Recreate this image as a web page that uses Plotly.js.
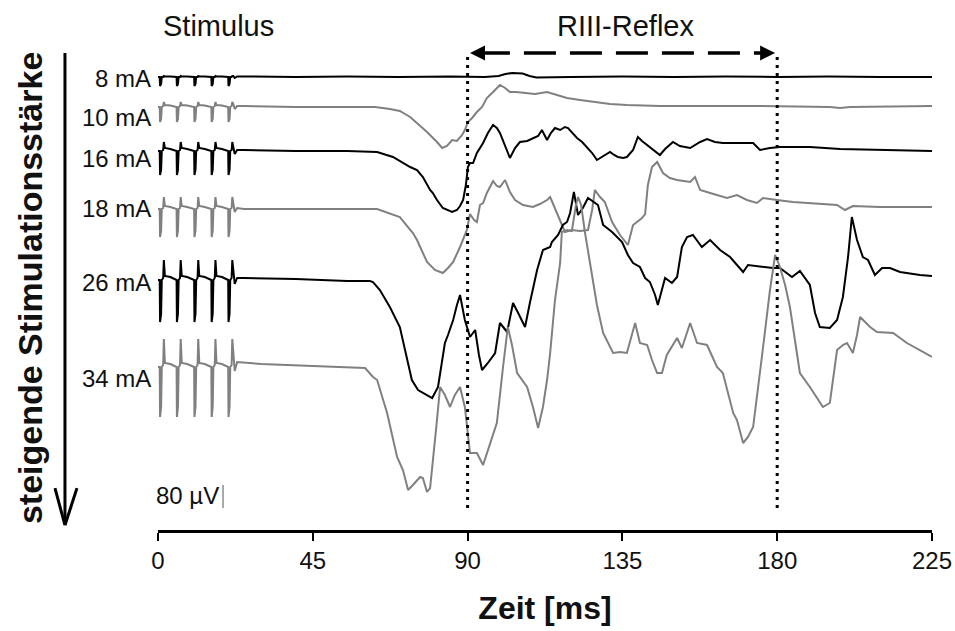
<!DOCTYPE html>
<html>
<head>
<meta charset="utf-8">
<script src="https://cdn.plot.ly/plotly-3.0.1.min.js"></script>
<style>html,body{margin:0;padding:0;background:#fff;}#chart{width:955px;height:631px;}</style>
</head>
<body>
<div id="chart"></div>
<script>
// ---- data (time in ms, amplitude in display units relative to each trace baseline) ----
const labels = ["8 mA", "10 mA", "16 mA", "18 mA", "26 mA", "34 mA"];
const colors = ["#000000", "#808080", "#000000", "#808080", "#000000", "#808080"];
const offsets = [453, 423, 379, 321, 250, 163];
const labelLevels = [452, 413, 372, 322, 248, 152];
const xTicks = [0, 45, 90, 135, 180, 225];

// stimulus section (5 pulses)
const stimT = [0, 0.5,0.6,0.9,1.1,1.5,1.7,2.0,3.6, 5.4,5.5,5.8,6.0,6.4,6.6,6.9,8.5, 10.5,10.6,10.9,11.1,11.5,11.7,12.0,13.6, 15.5,15.6,15.9,16.1,16.5,16.7,17.0,18.6, 20.4,20.5,20.8,21.0,21.4,21.6,21.9,22.3,23.0];
const stim8  = [0, 0,-9,-7,0,0,1,0.5,0.5, 0,-9,-7,0,0,1,0.5,0.5, 0,-9,-7,0,0,1,0.5,0.5, 0,-9,-7,0,0,1,0.5,0.5, 0,-9,-7,0,0,1,1,-1,0.5];
const stim10 = [0, 0,-15,-12,0,1,5,2,1.5, 0,-15,-12,0,1,5,2,1.5, 0,-15,-12,0,1,5,2,1.5, 0,-15,-12,0,1,5,2,1.5, 0,-15,-12,0,1,5,3,-2,1];
const stim16 = [0, 0,-24,-19,0,1,9,3,2, 0,-24,-19,0,1,9,3,2, 0,-24,-19,0,1,9,3,2, 0,-24,-19,0,1,9,3,2, 0,-24,-19,0,1,9,4,-3,1];
const stim18 = [0, 0,-28,-22,0,1,12,3,2, 0,-28,-22,0,1,12,3,2, 0,-28,-22,0,1,12,3,2, 0,-28,-22,0,1,12,3,2, 0,-28,-22,0,1,12,5,-3,1];
const stim26 = [0, 0,-42,-34,0,2,20,4,3, 0,-42,-34,0,2,20,4,3, 0,-42,-34,0,2,20,4,3, 0,-42,-34,0,2,20,4,3, 0,-42,-34,0,2,20,6,-4,2];
const stim34 = [0, 0,-50,-40,0,2,28,4,3, 0,-50,-40,0,2,28,4,3, 0,-50,-40,0,2,28,4,3, 0,-50,-40,0,2,28,4,3, 0,-50,-40,0,2,28,8,-4,5];

// response section
const r8t = [25, 40, 55, 70, 85, 95, 99, 101, 103, 106, 108, 110, 120, 135, 150, 165, 180, 195, 210, 225];
const r8v = [0.5, 0, 0.5, 0, 0.5, 0, 1, 3, 4, 3.5, 1, -0.5, 0, 0.5, 0, 0.5, 0, 0.5, 0, 0];

const r10t = [25, 40, 55, 63.1, 67.4, 70.3, 73.3, 75.3, 78.2, 81.1, 82.6, 84.0, 85.5, 86.9, 88.4, 89.2, 90.1, 91.3, 92.7, 94.2, 95.6, 97.4, 99.4, 100.9, 102.3, 104.1, 106.1, 109.6, 113.1, 116.0, 118.9, 122.7, 126.5, 131.4, 136.3, 145.9, 157.6, 175.0, 195.3, 198.3, 201.2, 225];
const r10v = [1, 0, 0, 0, -2, -4, -10, -16, -25, -35, -41, -39, -33, -34, -28, -23, -15, -11, -5, 0, 9, 15, 22, 19, 15, 15, 14, 13, 15, 12, 9, 7, 5, 3, 2, 1, 1, 1, 0, -1, 0, 1];

const r16t = [25, 40, 55, 63.7, 68.3, 73.3, 75.3, 77.0, 79.1, 79.9, 81.1, 82.8, 84.3, 85.5, 86.9, 87.8, 88.7, 89.5, 90.1, 90.7, 91.6, 92.7, 94.5, 95.9, 97.4, 98.5, 99.4, 100.9, 102.3, 103.8, 105.2, 107.3, 109.0, 110.5, 111.6, 113.1, 114.2, 115.4, 116.9, 118.3, 119.2, 120.6, 121.8, 123.3, 124.7, 126.2, 127.6, 129.4, 131.4, 132.6, 133.7, 135.2, 136.3, 138.1, 139.5, 140.7, 142.2, 143.9, 145.9, 147.4, 149.7, 151.7, 154.7, 157.6, 159.6, 161.9, 164.2, 169.2, 173.0, 175.0, 177.9, 180.8, 189.5, 198.3, 209.9, 225];
const r16v = [1, 0, 0, -1, -6, -16, -19, -26, -39, -42, -49, -57, -59, -61, -59, -55, -49, -34, -16, -12, -12, -2, 8, 18, 26, 23, 18, 6, -7, 3, 9, 10, 13, 15, 21, 11, 18, 23, 21, 24, 23, 18, 13, 9, 4, -2, -9, -5, -1, -4, -6, -7, -6, 1, 14, 10, 6, 1, -4, 2, 9, 5, 3, 9, 12, 9, 8, 8, 8, 1, 3, 4, 4, 2, 1, 0];

const r18t = [25, 40, 55, 63.7, 70.3, 74.1, 75.3, 77.0, 78.2, 80.5, 82.8, 84.3, 85.8, 87.8, 89.8, 90.7, 91.9, 92.7, 93.6, 94.5, 95.6, 97.4, 98.5, 99.4, 100.9, 102.3, 103.8, 106.1, 109.0, 111.0, 113.1, 114.0, 115.4, 116.9, 118.3, 120.3, 122.7, 125.0, 126.2, 127.0, 128.5, 129.9, 132.0, 134.3, 136.6, 138.1, 140.7, 141.6, 142.4, 143.6, 145.1, 146.8, 148.8, 150.9, 153.2, 154.7, 156.1, 157.6, 160.5, 165.4, 168.3, 171.2, 174.1, 175.9, 179.9, 184.6, 197.4, 199.7, 202.0, 209.9, 225];
const r18v = [0, 0, 0, 0, -8, -24, -31, -44, -53, -61, -64, -59, -53, -38, -21, -5, -11, -13, 4, 6, 16, 28, 23, 22, 29, 17, 9, 4, 2, 5, 9, 12, 1, -11, -23, -21, -22, -21, -1, 19, 12, 7, -13, -26, -36, -16, -9, -5, 24, 42, 47, 36, 31, 29, 28, 27, 32, 19, 16, 11, 14, 9, 6, 11, 9, 7, 4, -1, 3, 2, 2];

const r26t = [25, 40, 55, 61.6, 62.5, 64.5, 66.6, 67.4, 70.3, 71.8, 73.8, 75.6, 78.2, 79.7, 81.4, 82.6, 83.4, 84.3, 85.8, 86.9, 87.8, 89.2, 90.7, 92.2, 93.3, 94.2, 95.9, 98.0, 99.4, 101.5, 103.2, 104.7, 106.7, 108.1, 110.2, 111.9, 114.0, 114.5, 116.3, 117.7, 118.9, 119.8, 120.9, 122.1, 123.5, 125.0, 126.5, 127.9, 129.4, 132.0, 134.9, 136.6, 138.1, 140.1, 141.6, 143.0, 144.5, 145.3, 147.4, 149.4, 150.9, 152.3, 153.8, 155.5, 158.1, 160.5, 163.4, 166.3, 170.1, 171.5, 178.8, 180.8, 184.3, 186.6, 189.5, 191.0, 192.4, 195.3, 197.4, 199.1, 200.6, 201.7, 203.2, 204.9, 206.4, 208.4, 210.5, 212.8, 215.7, 221.5, 225];
const r26v = [2, 1, -1, -1, -2, -10, -23, -27, -47, -70, -100, -110, -115, -118, -107, -80, -63, -55, -40, -25, -15, -40, -57, -50, -75, -90, -83, -73, -43, -52, -23, -33, -47, -23, 10, 30, 33, 38, 45, 55, 58, 67, 88, 65, 72, 82, 78, 75, 55, 48, 38, 25, 17, 13, 2, -2, -15, -25, 2, -3, 3, 33, 43, 45, 33, 40, 30, 23, 8, 15, 12, 12, 3, 9, -5, -33, -47, -48, -40, -17, 23, 63, 40, 23, 20, 5, 12, 12, 8, 5, 4];

const r34t = [30, 45, 55, 60.2, 62.5, 63.7, 66.6, 69.5, 71.2, 72.7, 74.1, 76.2, 77.0, 78.2, 79.1, 79.9, 81.1, 82.0, 83.4, 84.9, 86.3, 87.8, 89.2, 90.7, 92.7, 94.5, 96.5, 98.5, 100.3, 101.7, 102.9, 104.4, 107.3, 109.0, 110.5, 111.9, 113.1, 114.0, 115.4, 116.9, 117.4, 118.9, 120.3, 121.5, 122.1, 123.0, 124.1, 126.2, 127.6, 129.4, 132.3, 134.3, 136.3, 138.7, 140.1, 142.2, 143.6, 145.1, 146.5, 147.9, 150.9, 152.3, 154.7, 156.7, 159.6, 162.5, 164.2, 167.2, 168.3, 170.1, 171.5, 173.0, 174.4, 175.9, 177.9, 179.4, 180.8, 182.3, 183.7, 186.6, 189.5, 191.9, 193.3, 195.3, 197.4, 199.1, 200.3, 202.0, 203.2, 204.1, 205.5, 207.0, 209.0, 213.7, 217.7, 225];
const r34v = [3, 1, 0, -1, -10, -13, -46, -90, -103, -123, -118, -110, -111, -125, -121, -96, -53, -20, -28, -40, -28, -20, -40, -86, -86, -98, -76, -56, 0, 40, 22, -6, -20, -40, -61, -40, -13, 14, 67, 104, 135, 137, 136, 162, 170, 162, 135, 89, 62, 34, 14, 15, 14, 44, 24, 22, 7, -6, -6, 12, 29, 19, 44, 24, 22, 0, -6, -46, -53, -76, -70, -60, -23, 20, 77, 112, 100, 82, 60, -6, -20, -33, -40, -36, 17, 22, 24, 14, 32, 50, 45, 40, 35, 34, 24, 10];

const stimV = [stim8, stim10, stim16, stim18, stim26, stim34];
const respT = [r8t, r10t, r16t, r18t, r26t, r34t];
const respV = [r8v, r10v, r16v, r18v, r26v, r34v];

// scale bar (80 µV) and reflex window
const scaleBarValue = 23;
const reflexWindow = [90, 180];

const FONT = "Liberation Sans, Arial, sans-serif";

const traces = labels.map((name, i) => ({
  type: "scatter",
  mode: "lines",
  name: name,
  x: stimT.concat(respT[i]),
  y: stimV[i].concat(respV[i]).map(v => v + offsets[i]),
  line: {color: colors[i], width: 2},
  hoverinfo: "skip",
  showlegend: false
}));

const annotations = labels.map((name, i) => ({
  xref: "paper", yref: "y", x: -0.006, y: labelLevels[i],
  xanchor: "right", yanchor: "middle", text: name, showarrow: false,
  font: {family: FONT, size: 24, color: "#111"}
}));

annotations.push(
  {xref: "x", yref: "y", x: 18.2, y: 35, xanchor: "right", yanchor: "middle", text: "80 µV", showarrow: false,
   font: {family: FONT, size: 24, color: "#111"}},
  {xref: "x", yref: "paper", x: 17.5, y: 0.951, xanchor: "center", yanchor: "middle", text: "Stimulus", showarrow: false,
   font: {family: FONT, size: 29, color: "#111"}},
  {xref: "x", yref: "paper", x: 135.9, y: 0.951, xanchor: "center", yanchor: "middle", text: "RIII-Reflex", showarrow: false,
   font: {family: FONT, size: 29, color: "#111"}},
  {xref: "paper", yref: "paper", x: -0.165, y: 0.457, xanchor: "center", yanchor: "middle", textangle: -90,
   text: "<b>steigende Stimulationsstärke</b>", showarrow: false, font: {family: FONT, size: 34, color: "#111"}},
  {xref: "x", yref: "y", x: 90.7, y: 477, axref: "x", ayref: "y", ax: 94.5, ay: 477, text: "", showarrow: true,
   arrowhead: 2, arrowsize: 1, arrowwidth: 3, arrowcolor: "#000", standoff: 0, startstandoff: 0},
  {xref: "x", yref: "y", x: 179.4, y: 477, axref: "x", ayref: "y", ax: 175.6, ay: 477, text: "", showarrow: true,
   arrowhead: 2, arrowsize: 1, arrowwidth: 3, arrowcolor: "#000", standoff: 0, startstandoff: 0}
);

const shapes = [
  {type: "line", xref: "x", yref: "y", x0: reflexWindow[0], x1: reflexWindow[0], y0: 22, y1: 473,
   line: {color: "#000", width: 3, dash: "3px,5px"}},
  {type: "line", xref: "x", yref: "y", x0: reflexWindow[1], x1: reflexWindow[1], y0: 22, y1: 473,
   line: {color: "#000", width: 3, dash: "3px,5px"}},
  {type: "line", xref: "x", yref: "y", x0: 93, x1: 177, y0: 477, y1: 477,
   line: {color: "#000", width: 3.5, dash: "32px,14px"}},
  {type: "line", xref: "x", yref: "y", x0: 18.9, x1: 18.9, y0: 22, y1: 22 + scaleBarValue,
   line: {color: "#555", width: 1}},
  // vertical arrow on the left
  {type: "line", xref: "paper", yref: "paper", x0: -0.1202, x1: -0.1202, y0: 0.90, y1: 0.012,
   line: {color: "#000", width: 3}},
  {type: "line", xref: "paper", yref: "paper", x0: -0.1331, x1: -0.1202, y0: 0.079, y1: 0.009,
   line: {color: "#000", width: 3}},
  {type: "line", xref: "paper", yref: "paper", x0: -0.1047, x1: -0.1202, y0: 0.079, y1: 0.009,
   line: {color: "#000", width: 3}}
];

const layout = {
  width: 955, height: 631,
  margin: {l: 158, r: 23, t: 0, b: 101},
  paper_bgcolor: "#fff", plot_bgcolor: "#fff",
  showlegend: false,
  xaxis: {
    range: [0, 225], tickvals: xTicks, ticktext: xTicks.map(String),
    showline: true, linecolor: "#000", linewidth: 2.5, mirror: false,
    ticks: "outside", ticklen: 8, tickwidth: 2, tickcolor: "#000",
    showgrid: false, zeroline: false,
    tickfont: {family: FONT, size: 24, color: "#111"},
    title: {text: "<b>Zeit [ms]</b>", font: {family: FONT, size: 32, color: "#111"}, standoff: 24}
  },
  yaxis: {range: [0, 530], visible: false, showgrid: false, zeroline: false},
  annotations: annotations,
  shapes: shapes
};

Plotly.newPlot("chart", traces, layout, {staticPlot: true, displayModeBar: false});
</script>
</body>
</html>
